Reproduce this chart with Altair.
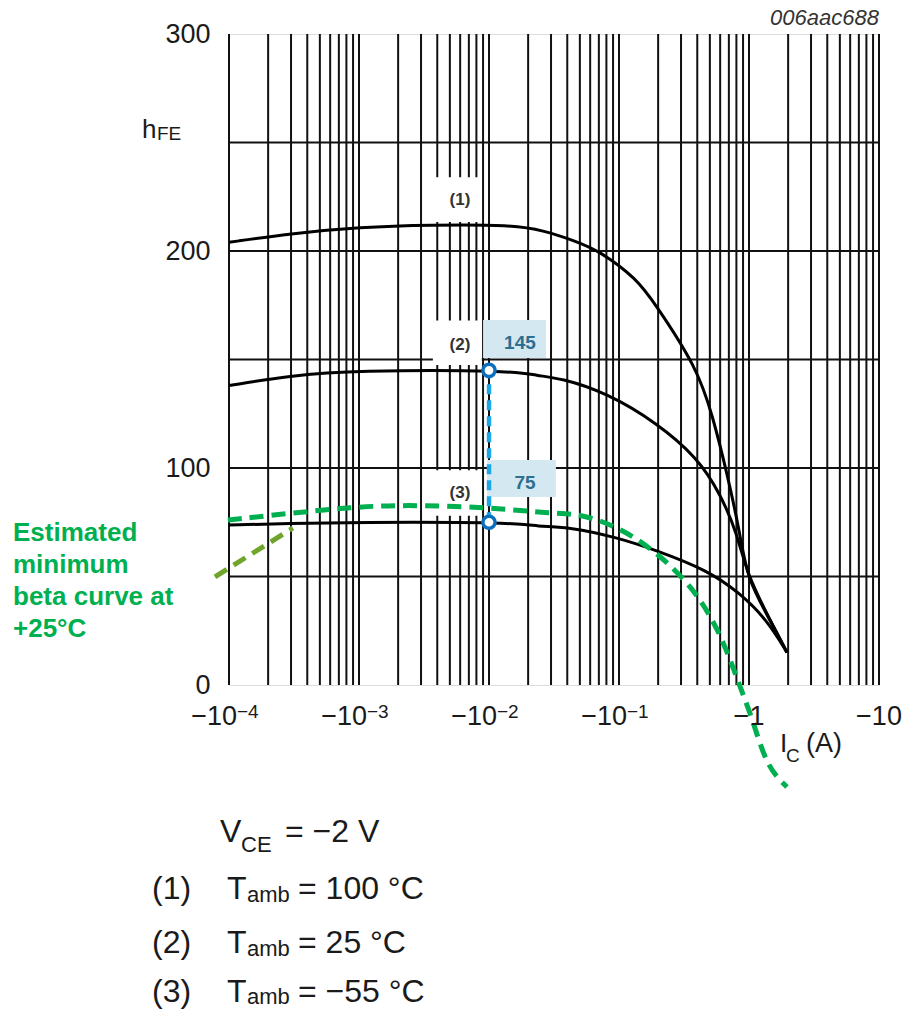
import altair as alt
import pandas as pd

# ---------------- data ----------------
ic1 = [1e-4, 2.94e-4, 1.02e-3, 3.52e-3, 0.0153, 0.026, 0.0443, 0.0714, 0.1375, 0.183, 0.398, 0.528, 0.677, 0.853, 0.966, 1.45, 1.96]
hfe1 = [204, 208, 211, 212, 212, 209.5, 205, 200, 187, 177, 146.5, 123.5, 97.7, 70, 49, 30, 15]
ic2 = [1e-4, 2.94e-4, 9e-4, 0.0153, 0.0234, 0.0352, 0.0809, 0.196, 0.398, 0.598, 0.809, 0.966, 1.45, 1.96]
hfe2 = [138, 142.5, 145, 145, 142.5, 141.5, 134.6, 120.7, 105, 88.5, 70, 51, 30, 15]
ic3 = [1e-4, 2.94e-4, 9e-4, 0.0153, 0.0234, 0.042, 0.0966, 0.196, 0.475, 0.853, 1.375, 1.96]
hfe3 = [73.7, 74.5, 75, 75, 73, 72.8, 68, 62, 53, 42.4, 30, 15]

ic_min = [9.8e-5, 2.79e-4, 9e-4, 2.18e-3, 9.66e-3, 0.0295, 0.0501, 0.0966, 0.173, 0.352, 0.598, 0.853, 1.07, 1.375, 1.96]
hfe_min = [76, 79, 82, 83, 82, 79, 79, 73, 63.6, 47, 25, -1, -16, -38, -47]
ic_olive = [7.8e-5, 3.1e-4]
hfe_olive = [49.8, 72.4]

ic_mark = [0.01, 0.01]
hfe_mark = [75, 145]
mark_text = ["75", "145"]
mark_box_x0 = [0.00966, 0.0090]
mark_box_x1 = [0.0327, 0.0274]
mark_box_y0 = [86.6, 150.7]
mark_box_y1 = [103.7, 168.2]
mark_text_x = [0.0189, 0.0173]
mark_text_y = [93, 157.6]

curve_labels = ["(1)", "(2)", "(3)"]
curve_label_x = [0.00598, 0.00598, 0.00598]
curve_label_y = [223.5, 156.7, 88.5]
label_box_x0 = [0.0037, 0.0037, 0.0037]
label_box_x1 = [0.0088, 0.0088, 0.0088]
label_box_y0 = [213.4, 147.5, 78]
label_box_y1 = [234, 168, 99]

decades = [1e-4, 1e-3, 1e-2, 1e-1, 1]
multipliers = [1, 2, 3, 4, 5, 6, 7, 8, 9]
grid_y = [50, 100, 150, 200, 250]
y_ticks = [0, 100, 200, 300]

xt_exp_vals = [1e-4, 1e-3, 1e-2, 1e-1]
xt_exp_base = ["\u221210", "\u221210", "\u221210", "\u221210"]
xt_exp_pow = ["\u22124", "\u22123", "\u22122", "\u22121"]
xt_plain_vals = [1, 10]
xt_plain_text = ["\u22121", "\u221210"]

FONT = "Liberation Sans"
W, H = 650, 651

# ---------------- tables ----------------
curves = pd.concat([
    pd.DataFrame({"ic": ic1, "hfe": hfe1, "c": "1"}),
    pd.DataFrame({"ic": ic2, "hfe": hfe2, "c": "2"}),
    pd.DataFrame({"ic": ic3, "hfe": hfe3, "c": "3"}),
])
green = pd.DataFrame({"ic": ic_min, "hfe": hfe_min})
olive = pd.DataFrame({"ic": ic_olive, "hfe": hfe_olive})
blue = pd.DataFrame({"ic": ic_mark, "hfe": hfe_mark})
mbox = pd.DataFrame({"x0": mark_box_x0, "x1": mark_box_x1, "y0": mark_box_y0, "y1": mark_box_y1,
                     "tx": mark_text_x, "ty": mark_text_y, "t": mark_text})
lbox = pd.DataFrame({"x0": label_box_x0, "x1": label_box_x1, "y0": label_box_y0, "y1": label_box_y1,
                     "tx": curve_label_x, "ty": curve_label_y, "t": curve_labels})
gx = pd.DataFrame({"v": [d * m for d in decades for m in multipliers] + [10]})
gy = pd.DataFrame({"v": grid_y})
xte = pd.DataFrame({"v": xt_exp_vals, "b": xt_exp_base, "p": xt_exp_pow})
xtp = pd.DataFrame({"v": xt_plain_vals, "t": xt_plain_text})
one = pd.DataFrame({"k": [0]})

xs = alt.Scale(type="log", domain=[1e-4, 10], nice=False)
ys = alt.Scale(domain=[0, 300], nice=False, zero=False)
yaxis = alt.Axis(values=y_ticks, grid=False, ticks=False, tickSize=0, domain=False,
                 labelFontSize=27, labelPadding=19, labelColor="#1a1a1a", labelFont=FONT,
                 labelFlush=False, labelOverlap=False, title=None)


def X(f):
    return alt.X(f, type="quantitative", scale=xs, axis=None)


def Y(f):
    return alt.Y(f, type="quantitative", scale=ys, axis=yaxis)


vgrid = alt.Chart(gx).mark_rule(color="#111", strokeWidth=2).encode(x=X("v"))
hgrid = alt.Chart(gy).mark_rule(color="#111", strokeWidth=2).encode(y=Y("v"))

lbox_rect = alt.Chart(lbox).mark_rect(color="white").encode(x=X("x0"), x2="x1", y=Y("y0"), y2="y1")
lbox_text = alt.Chart(lbox).mark_text(font=FONT, fontSize=17, fontWeight="bold", color="#333").encode(
    x=X("tx"), y=Y("ty"), text="t:N")

mbox_rect = alt.Chart(mbox).mark_rect(color="#D3E8F1").encode(x=X("x0"), x2="x1", y=Y("y0"), y2="y1")
mbox_text = alt.Chart(mbox).mark_text(font=FONT, fontSize=19, fontWeight="bold", color="#2E6E8F").encode(
    x=X("tx"), y=Y("ty"), text="t:N")

lines = alt.Chart(curves).mark_line(color="black", strokeWidth=3, interpolate="basis").encode(
    x=X("ic"), y=Y("hfe"), detail="c:N")
gline = alt.Chart(green).mark_line(color="#00B050", strokeWidth=5, strokeDash=[14, 8],
                                   interpolate="basis").encode(x=X("ic"), y=Y("hfe"))
oline = alt.Chart(olive).mark_line(color="#6FA52B", strokeWidth=5, strokeDash=[14, 8]).encode(
    x=X("ic"), y=Y("hfe"))
bline = alt.Chart(blue).mark_line(color="#1FA5E6", strokeWidth=4.5, strokeDash=[10, 6]).encode(
    x=X("ic"), y=Y("hfe"))
bpts = alt.Chart(blue).mark_point(shape="circle", fill="white", stroke="#0B6FBE", strokeWidth=3.5,
                                  size=150, opacity=1, fillOpacity=1).encode(x=X("ic"), y=Y("hfe"))

# x tick labels (with superscript exponents)
xt_base = alt.Chart(xte).mark_text(font=FONT, fontSize=27, color="#1a1a1a", align="right", dx=8,
                                   baseline="alphabetic").encode(x=X("v"), y=alt.value(691), text="b:N")
xt_pow = alt.Chart(xte).mark_text(font=FONT, fontSize=19, color="#1a1a1a", align="left", dx=8,
                                  baseline="alphabetic").encode(x=X("v"), y=alt.value(684), text="p:N")
xt_pl = alt.Chart(xtp).mark_text(font=FONT, fontSize=27, color="#1a1a1a", align="center",
                                 baseline="alphabetic").encode(x=X("v"), y=alt.value(691), text="t:N")


def label(txt, x, y, size, **kw):
    return alt.Chart(one).mark_text(font=FONT, fontSize=size, color=kw.pop("color", "#1a1a1a"),
                                    align=kw.pop("align", "left"), baseline="alphabetic", **kw).encode(
        x=alt.value(x), y=alt.value(y), text=alt.value(txt))


texts = [
    label("006aac688", 650, -9, 22, fontStyle="italic", align="right", color="#333"),
    # y title h_FE
    label("h", -87, 104, 26),
    label("FE", -72, 106, 19),
    # x title I_C (A)
    label("I", 551, 718, 26),
    label("C", 557, 728, 19),
    label("(A)", 577, 718, 27),
    # bottom block
    label("V", -9, 808, 32),
    label("CE", 12, 818, 22),
    label("= \u22122 V", 56, 808, 32),
    label("(1)", -77, 865, 32), label("T", -2, 865, 32), label("amb", 18, 868, 22),
    label("= 100 \u00b0C", 69, 865, 32),
    label("(2)", -77, 919, 32), label("T", -2, 919, 32), label("amb", 18, 922, 22),
    label("= 25 \u00b0C", 69, 919, 32),
    label("(3)", -77, 968, 32), label("T", -2, 968, 32), label("amb", 18, 970, 22),
    label("= \u221255 \u00b0C", 69, 968, 32),
]

annot = alt.Chart(one).mark_text(font=FONT, fontSize=26, fontWeight="bold", color="#00B050",
                                 align="left", baseline="alphabetic", lineHeight=32).encode(
    x=alt.value(-216), y=alt.value(507),
    text=alt.value(["Estimated", "minimum", "beta curve at", "+25\u00b0C"]))

chart = alt.layer(
    hgrid, vgrid, lbox_rect, mbox_rect, lines, lbox_text, gline, oline, bline, bpts, mbox_text,
    xt_base, xt_pow, xt_pl, annot, *texts
).properties(
    width=W, height=H,
    padding={"left": 229, "top": 34, "right": 26, "bottom": 325},
    autosize=alt.AutoSizeParams(type="none"),
).configure_view(stroke="black", strokeWidth=2, fill="white").configure(background="white")

chart.save("out.html", embed_options={"renderer": "svg", "actions": False})
